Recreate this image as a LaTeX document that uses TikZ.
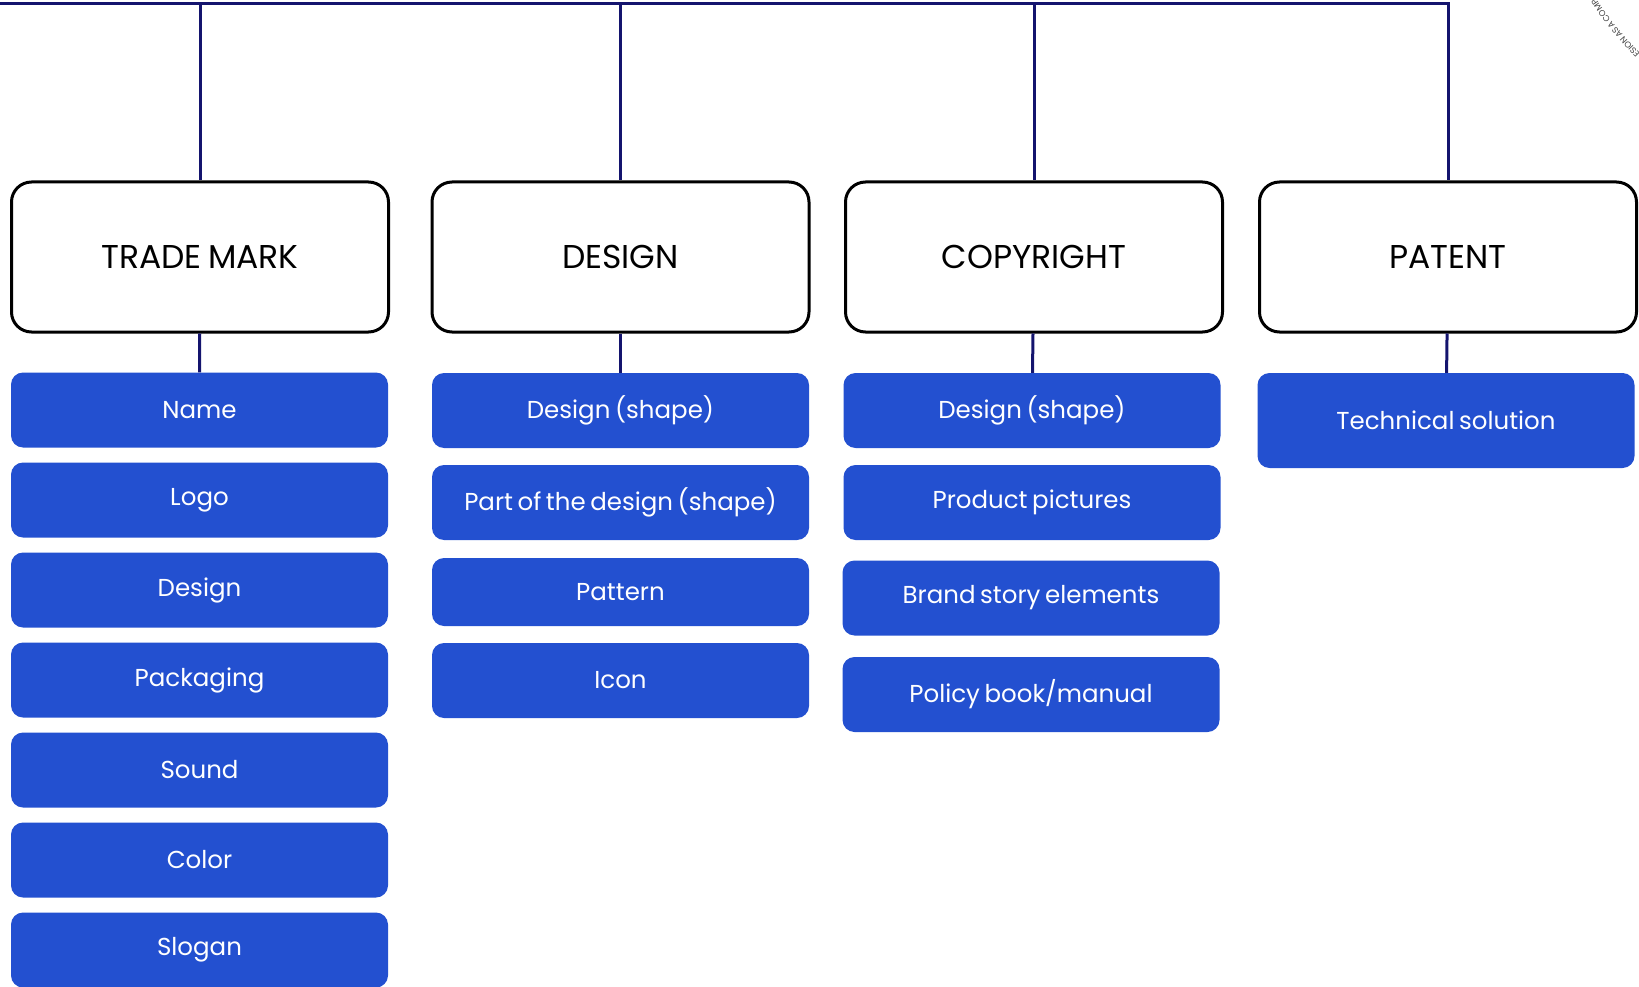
\documentclass[tikz,border=0pt]{standalone}
\usepackage{fontspec}
\setmainfont{Poppins}[WordSpace=0.7]
\usepackage{xcolor}
\usepackage{tikz}
\usetikzlibrary{decorations.text}
\definecolor{itemblue}{HTML}{2350D0}
\definecolor{linknavy}{HTML}{14146E}

\begin{document}
\begin{tikzpicture}[x = 1pt, y = 1pt]
        \tikzset{head/.style = {shape=rectangle,draw,line width=3pt,rounded corners=20pt,fill=white,minimum width=377pt,minimum height=150pt,font=\fontsize{33}{40}\selectfont}}
        \tikzset{item/.style = {shape=rectangle,fill=itemblue,rounded corners=12pt,minimum width=377pt,minimum height=75pt,text=white,font=\fontsize{24.5}{30}\selectfont}}
        \tikzset{link/.style = {line width=3pt, draw = linknavy}}
        \useasboundingbox (0,0) rectangle (1639,-987);
        % heads
        \node[head] (tm) at  (200,-257) {TRADE MARK};
        \node[head] (des) at  (620.5,-257) {DESIGN};
        \node[head] (copy) at  (1034,-257) {COPYRIGHT};
        \node[head] (pat) at  (1448,-257) {PATENT};
        % trade mark items
        \node[item] (tm1) at  (199.5,-410) {Name};
        \node[item] (tm2) at  (199.5,-500) {Logo};
        \node[item] (tm3) at  (199.5,-590) {Design};
        \node[item] (tm4) at  (199.5,-680) {Packaging};
        \node[item] (tm5) at  (199.5,-770) {Sound};
        \node[item] (tm6) at  (199.5,-860) {Color};
        \node[item] (tm7) at  (199.5,-950) {Slogan};
        % design items
        \node[item] (des1) at  (620.5,-410.5) {Design (shape)};
        \node[item] (des2) at  (620.5,-502.5) {Part of the design (shape)};
        \node[item, minimum height=68pt] (des3) at  (620.5,-592) {Pattern};
        \node[item] (des4) at  (620.5,-680.5) {Icon};
        % copyright items
        \node[item] (copy1) at  (1032,-410.5) {Design (shape)};
        \node[item] (copy2) at  (1032,-502.5) {Product pictures};
        \node[item] (copy3) at  (1031,-598) {Brand story elements};
        \node[item] (copy4) at  (1031,-694.5) {Policy book/manual};
        % patent items
        \node[item, minimum height=95pt] (pat1) at  (1446,-420.5) {Technical solution};

        %edges top
        \coordinate (top) at (0,-4);
        \draw[link] (top) -| (pat);
        \draw[link] (top -| tm.north) to (tm);
        \draw[link] (top -| des.north) to (des);
        \draw[link] (top -| copy.north) to (copy);
        %edges down
        \draw[link] (tm) to (tm1);
        \draw[link] (des) to (des1);
        \draw[link] (copy) to (copy1);
        \draw[link] (pat) to (pat1);

        % stamp
        \path[decorate, decoration = {text along path, text align = center,
          text = {|\fontsize{8.5}{10}\selectfont\color{darkgray}|ESION AS A COMP}}]
          (1912,212) ++(228:380) arc (228:210:380);
        \end{tikzpicture}
\end{document}
